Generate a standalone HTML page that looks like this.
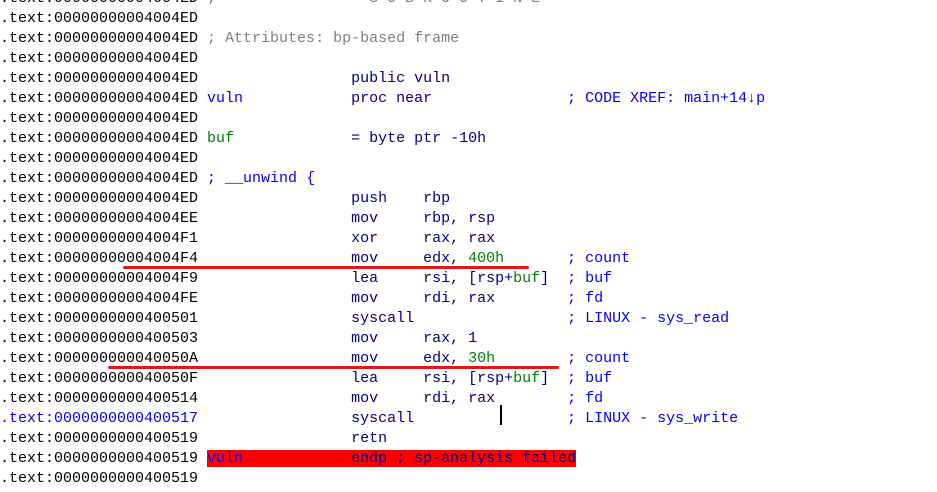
<!DOCTYPE html>
<html><head><style>
html,body{margin:0;padding:0;background:#fff;width:937px;height:492px;overflow:hidden;position:relative}
pre{position:absolute;left:0;top:-11px;margin:0;font:15px/20px "Liberation Mono",monospace;color:#000}
.n{color:#000080}.b{color:#0000ff}.g{color:#008000}.c{color:#808080}.hl{background:#ff0000}
.line{position:absolute;height:3px;background:#e01818;border-radius:2px}
</style></head><body>
<pre>.text:00000000004004ED <span class="c">; --------------- S U B R O U T I N E ---------------------------------------</span>
.text:00000000004004ED
.text:00000000004004ED <span class="c">; Attributes: bp-based frame</span>
.text:00000000004004ED
.text:00000000004004ED                 <span class="n">public vuln</span>
.text:00000000004004ED <span class="b">vuln</span>            <span class="n">proc near</span>               <span class="b">; CODE XREF: main+14↓p</span>
.text:00000000004004ED
.text:00000000004004ED <span class="g">buf</span>             <span class="n">= byte ptr -10h</span>
.text:00000000004004ED
.text:00000000004004ED <span class="b">; __unwind {</span>
.text:00000000004004ED                 <span class="n">push    rbp</span>
.text:00000000004004EE                 <span class="n">mov     rbp, rsp</span>
.text:00000000004004F1                 <span class="n">xor     rax, rax</span>
.text:00000000004004F4                 <span class="n">mov     edx, </span><span class="g">400h</span>       <span class="b">; count</span>
.text:00000000004004F9                 <span class="n">lea     rsi, [rsp+</span><span class="g">buf</span><span class="n">]</span>  <span class="b">; buf</span>
.text:00000000004004FE                 <span class="n">mov     rdi, rax</span>        <span class="b">; fd</span>
.text:0000000000400501                 <span class="n">syscall</span>                 <span class="b">; LINUX - sys_read</span>
.text:0000000000400503                 <span class="n">mov     rax, 1</span>
.text:000000000040050A                 <span class="n">mov     edx, </span><span class="g">30h</span>        <span class="b">; count</span>
.text:000000000040050F                 <span class="n">lea     rsi, [rsp+</span><span class="g">buf</span><span class="n">]</span>  <span class="b">; buf</span>
.text:0000000000400514                 <span class="n">mov     rdi, rax</span>        <span class="b">; fd</span>
<span class="b">.text:0000000000400517</span>                 <span class="n">syscall</span>                 <span class="b">; LINUX - sys_write</span>
.text:0000000000400519                 <span class="n">retn</span>
.text:0000000000400519 <span class="hl"><span class="b">vuln</span>            <span class="n">endp ; sp-analysis failed</span></span>
.text:0000000000400519</pre>
<div class="line" style="left:123px;top:266px;width:406px"></div>
<div class="line" style="left:108px;top:366px;width:451px"></div>
<div style="position:absolute;left:500px;top:405px;width:2px;height:20px;background:#000"></div>
</body></html>
